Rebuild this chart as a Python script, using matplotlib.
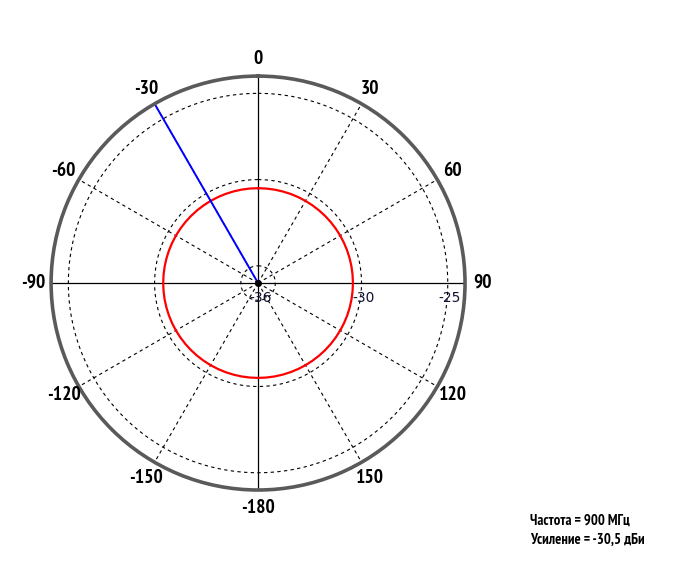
import numpy as np
import matplotlib.pyplot as plt

# данные диаграммы
r_min = -36
r_max = -24
r_rings = [-35, -30, -25]
r_labels = [-36, -30, -25]
spoke_angles = [30, 60, 120, 150, 210, 240, 300, 330]
axis_angles = [0, 90, 180, 270]
angle_ticks = [0, 30, 60, 90, 120, 150, 180, -150, -120, -90, -60, -30]
angle_labels = ['0', '30', '60', '90', '120', '150', '-180', '-150', '-120', '-90', '-60', '-30']
pattern_deg = np.arange(0, 361, 5)
pattern_gain = [-30.5] * len(pattern_deg)
beam_angle = -30
freq = '900 МГц'
gain = '-30,5 дБи'

bold_font = ['PT Sans Narrow', 'DejaVu Sans']

fig = plt.figure(figsize=(6.8, 5.67), dpi=100)
ax = fig.add_axes([0.075, 0.1358, 0.609, 0.730], projection='polar')
ax.set_theta_zero_location('N')
ax.set_theta_direction(-1)
ax.set_rlim(r_min, r_max)
ax.grid(False)
ax.set_xticks([])
ax.set_yticks([])
ax.spines['polar'].set_color('#5a5a5a')
ax.spines['polar'].set_linewidth(2.6)

# кольца сетки
t = np.linspace(0, 2 * np.pi, 361)
for r in r_rings:
    ax.plot(t, [r] * len(t), color='black', ls=(0, (3, 3)), lw=0.8)

# лучи сетки
for a in spoke_angles:
    ax.plot([np.deg2rad(a)] * 2, [r_min, r_max], color='black', ls=(0, (3, 3)), lw=0.8)
for a in axis_angles:
    ax.plot([np.deg2rad(a)] * 2, [r_min, r_max], color='black', lw=0.9)

# диаграмма направленности
ax.plot(np.deg2rad(pattern_deg), pattern_gain, color='red', lw=1.6)
ax.plot([np.deg2rad(beam_angle)] * 2, [r_min, r_max], color='blue', lw=1.4)
ax.plot([0], [r_min], 'o', color='black', ms=4)

# подписи углов
for a, lab in zip(angle_ticks, angle_labels):
    ax.text(np.deg2rad(a), -22.98, lab, ha='center', va='center', fontsize=14,
            fontweight='bold', family=bold_font, clip_on=False)

# подписи радиусов
for r in r_labels:
    ax.annotate(str(r), xy=(np.pi / 2, r), xytext=(1.5, -10.5), textcoords='offset points',
                ha='center', va='center', fontsize=10, color='#111133')

fig.text(0.779, 0.065, 'Частота = ' + freq + '\nУсиление = ' + gain, ha='left', va='center',
         fontsize=10.5, fontweight='bold', family=bold_font, linespacing=1.5)

fig.savefig('out.png', dpi=100)
